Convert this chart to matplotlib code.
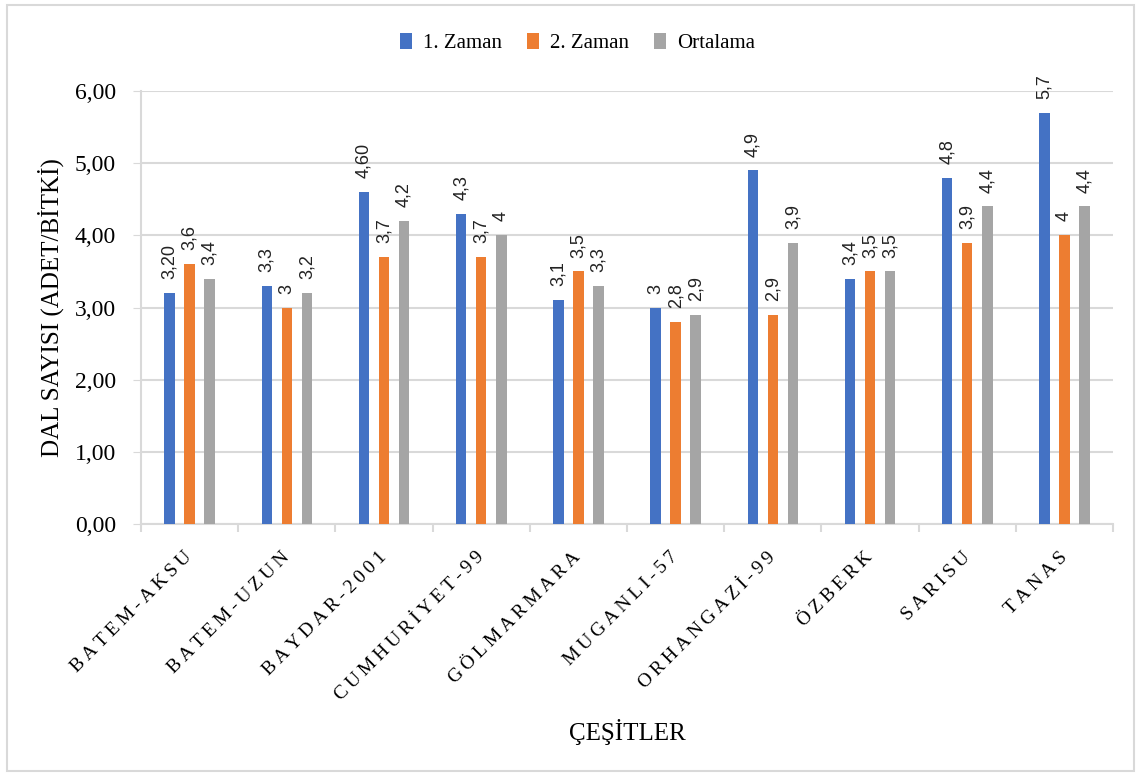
import matplotlib.pyplot as plt
import numpy as np
from matplotlib.patches import Rectangle

categories = ['BATEM-AKSU', 'BATEM-UZUN', 'BAYDAR-2001', 'CUMHURİYET-99', 'GÖLMARMARA',
              'MUGANLI-57', 'ORHANGAZİ-99', 'ÖZBERK', 'SARISU', 'TANAS']
zaman1 = [3.2, 3.3, 4.6, 4.3, 3.1, 3.0, 4.9, 3.4, 4.8, 5.7]
zaman2 = [3.6, 3.0, 3.7, 3.7, 3.5, 2.8, 2.9, 3.5, 3.9, 4.0]
ortalama = [3.4, 3.2, 4.2, 4.0, 3.3, 2.9, 3.9, 3.5, 4.4, 4.4]
labels1 = ['3,20', '3,3', '4,60', '4,3', '3,1', '3', '4,9', '3,4', '4,8', '5,7']
labels2 = ['3,6', '3', '3,7', '3,7', '3,5', '2,8', '2,9', '3,5', '3,9', '4']
labels3 = ['3,4', '3,2', '4,2', '4', '3,3', '2,9', '3,9', '3,5', '4,4', '4,4']
series_names = ['1. Zaman', '2. Zaman', 'Ortalama']
colors = ['#4472C4', '#ED7D31', '#A5A5A5']

plt.rcParams['font.family'] = ['Liberation Serif', 'DejaVu Serif']

fig = plt.figure(figsize=(11.41, 7.76), dpi=100)
ax = fig.add_axes([0.1236, 0.3247, 0.8519, 0.558])

x = np.arange(len(categories))
step = 0.206
width = 0.108
for k, (vals, labs) in enumerate(zip([zaman1, zaman2, ortalama], [labels1, labels2, labels3])):
    pos = x + (k - 1) * step
    ax.bar(pos, vals, width, color=colors[k], label=series_names[k], zorder=3)
    for px, v, t in zip(pos, vals, labs):
        ax.annotate(t, (px, v), xytext=(0, 10), textcoords='offset points',
                    rotation=90, ha='center', va='bottom', fontsize=13,
                    family='Liberation Sans', color='#222222')

ax.set_xlim(-0.5, len(categories) - 0.5)
ax.set_ylim(0, 6)
ax.set_yticks(np.arange(0, 7, 1))
ax.yaxis.set_major_formatter(plt.FuncFormatter(lambda v, p: ('%.2f' % v).replace('.', ',')))
ax.tick_params(axis='y', length=6, color='#d9d9d9', pad=12, labelsize=17)
ax.grid(axis='y', color='#d9d9d9', linewidth=1.5, zorder=0)

# Excel draws these category names with wide letter spacing
spaced = ['\u2009'.join(c) for c in categories]
ax.set_xticks(x)
ax.set_xticklabels(spaced, rotation=45, ha='right', va='center',
                   rotation_mode='anchor', fontsize=14)
ax.tick_params(axis='x', length=0, pad=22)
ax.set_xticks(np.arange(-0.5, len(categories)), minor=True)
ax.tick_params(axis='x', which='minor', length=6, color='#d9d9d9', width=1.5)

for s in ['top', 'right']:
    ax.spines[s].set_visible(False)
for s in ['left', 'bottom']:
    ax.spines[s].set_color('#d9d9d9')
    ax.spines[s].set_linewidth(1.5)

ax.set_ylabel('DAL SAYISI (ADET/BİTKİ)', fontsize=18, labelpad=8)
ax.set_xlabel('ÇEŞİTLER', fontsize=18)
ax.xaxis.set_label_coords(0.5, -0.45)

fig.legend(loc='center', bbox_to_anchor=(0.506, 0.945), ncol=3, frameon=False,
           fontsize=15, handlelength=0.6, handleheight=0.8, handletextpad=0.5,
           columnspacing=1.2)

fig.patches.append(Rectangle((0.006, 0.006), 0.988, 0.988, transform=fig.transFigure,
                             fill=False, edgecolor='#d9d9d9', linewidth=1.5))

fig.savefig('out.png', dpi=100)
